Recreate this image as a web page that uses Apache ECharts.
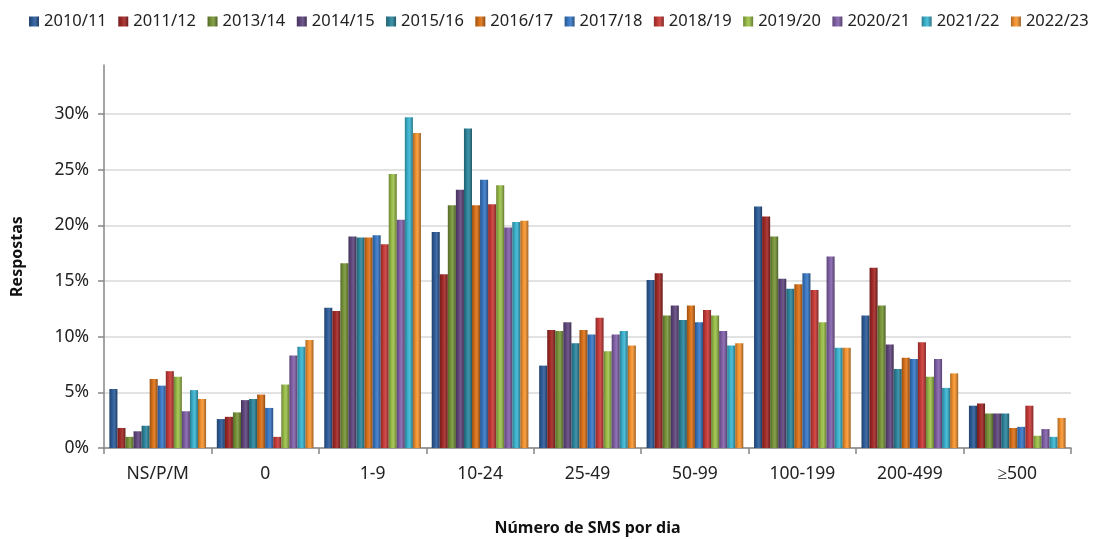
<!DOCTYPE html>
<html>
<head>
<meta charset="utf-8">
<script src="https://cdn.jsdelivr.net/npm/echarts@6/dist/echarts.min.js"></script>
<style>
html,body{margin:0;padding:0;background:#fff;}
#chart{width:1096px;height:539px;}
</style>
</head>
<body>
<div id="chart"></div>
<script>
// categorias (número de SMS por dia)
var categories = ['NS/P/M', '0', '1-9', '10-24', '25-49', '50-99', '100-199', '200-499', '≥500'];
var years = ['2010/11', '2011/12', '2013/14', '2014/15', '2015/16', '2016/17',
             '2017/18', '2018/19', '2019/20', '2020/21', '2021/22', '2022/23'];

// valores em % por ano
var s2010 = [5.3, 2.6, 12.6, 19.4, 7.4, 15.1, 21.7, 11.9, 3.8];
var s2011 = [1.8, 2.8, 12.3, 15.6, 10.6, 15.7, 20.8, 16.2, 4.0];
var s2013 = [1.0, 3.2, 16.6, 21.8, 10.5, 11.9, 19.0, 12.8, 3.1];
var s2014 = [1.5, 4.3, 19.0, 23.2, 11.3, 12.8, 15.2, 9.3, 3.1];
var s2015 = [2.0, 4.4, 18.9, 28.7, 9.4, 11.5, 14.3, 7.1, 3.1];
var s2016 = [6.2, 4.8, 18.9, 21.8, 10.6, 12.8, 14.7, 8.1, 1.8];
var s2017 = [5.6, 3.6, 19.1, 24.1, 10.2, 11.3, 15.7, 8.0, 1.9];
var s2018 = [6.9, 1.0, 18.3, 21.9, 11.7, 12.4, 14.2, 9.5, 3.8];
var s2019 = [6.4, 5.7, 24.6, 23.6, 8.7, 11.9, 11.3, 6.4, 1.1];
var s2020 = [3.3, 8.3, 20.5, 19.8, 10.2, 10.5, 17.2, 8.0, 1.7];
var s2021 = [5.2, 9.1, 29.7, 20.3, 10.5, 9.2, 9.0, 5.4, 1.0];
var s2022 = [4.4, 9.7, 28.3, 20.4, 9.2, 9.4, 9.0, 6.7, 2.7];

var yTicks = [0, 5, 10, 15, 20, 25, 30];

var values = [s2010, s2011, s2013, s2014, s2015, s2016, s2017, s2018, s2019, s2020, s2021, s2022];
var colors = ['#2f5e9b', '#a32b28', '#79963a', '#62497f', '#2f879e', '#dc731a',
              '#3b7ac6', '#c83c39', '#9cc04b', '#8463aa', '#3db4d0', '#f69532'];

function shade(hex, p) {
    var n = parseInt(hex.slice(1), 16);
    var r = n >> 16, g = (n >> 8) & 255, b = n & 255;
    var f = function (c) {
        c = p < 0 ? c * (1 + p) : c + (255 - c) * p;
        return Math.max(0, Math.min(255, Math.round(c)));
    };
    return 'rgb(' + f(r) + ',' + f(g) + ',' + f(b) + ')';
}

var series = [];
values.forEach(function (v, i) {
    var c = colors[i];
    series.push({
        name: years[i],
        type: 'bar',
        data: v,
        barGap: '0%',
        barCategoryGap: '10%',
        itemStyle: {
            color: new echarts.graphic.LinearGradient(0, 0, 1, 0, [
                {offset: 0, color: shade(c, -0.3)},
                {offset: 0.4, color: c},
                {offset: 0.6, color: shade(c, 0.1)},
                {offset: 1, color: shade(c, -0.35)}
            ])
        }
    });
});

var chart = echarts.init(document.getElementById('chart'));
chart.setOption({
    animation: false,
    textStyle: {fontFamily: 'Noto Sans'},
    color: colors,
    legend: {
        top: 13,
        left: 29,
        width: 1067,
        padding: 0,
        icon: 'rect',
        itemWidth: 10,
        itemHeight: 10,
        itemGap: 11.5,
        textStyle: {fontSize: 16.5, color: '#222', fontFamily: 'Noto Sans'},
        data: years
    },
    grid: {left: 104, right: 25, top: 65, bottom: 91, outerBoundsMode: 'none'},
    xAxis: {
        type: 'category',
        data: categories,
        name: 'Número de SMS por dia',
        nameLocation: 'middle',
        nameGap: 72,
        nameTextStyle: {fontSize: 16, fontWeight: 'bold', color: '#111'},
        axisLine: {lineStyle: {color: '#868686', width: 1.5}},
        axisTick: {show: true, length: 6, lineStyle: {color: '#868686', width: 1.5}},
        axisLabel: {fontSize: 17.5, color: '#222', margin: 17}
    },
    yAxis: {
        type: 'value',
        min: 0,
        max: 34.4,
        interval: 5,
        name: 'Respostas',
        nameLocation: 'middle',
        nameGap: 79,
        nameTextStyle: {fontSize: 16, fontWeight: 'bold', color: '#111'},
        axisLine: {show: true, lineStyle: {color: '#868686', width: 1.5}},
        axisTick: {show: true, length: 6, lineStyle: {color: '#868686', width: 1.5}},
        axisLabel: {
            fontSize: 17.5, color: '#222', margin: 15,
            showMaxLabel: false,
            formatter: function (v) { return yTicks.indexOf(v) >= 0 ? v + '%' : ''; }
        },
        splitLine: {show: true, showMaxLine: false, lineStyle: {color: '#d9d9d9', width: 1.5}}
    },
    series: series
});
</script>
</body>
</html>
